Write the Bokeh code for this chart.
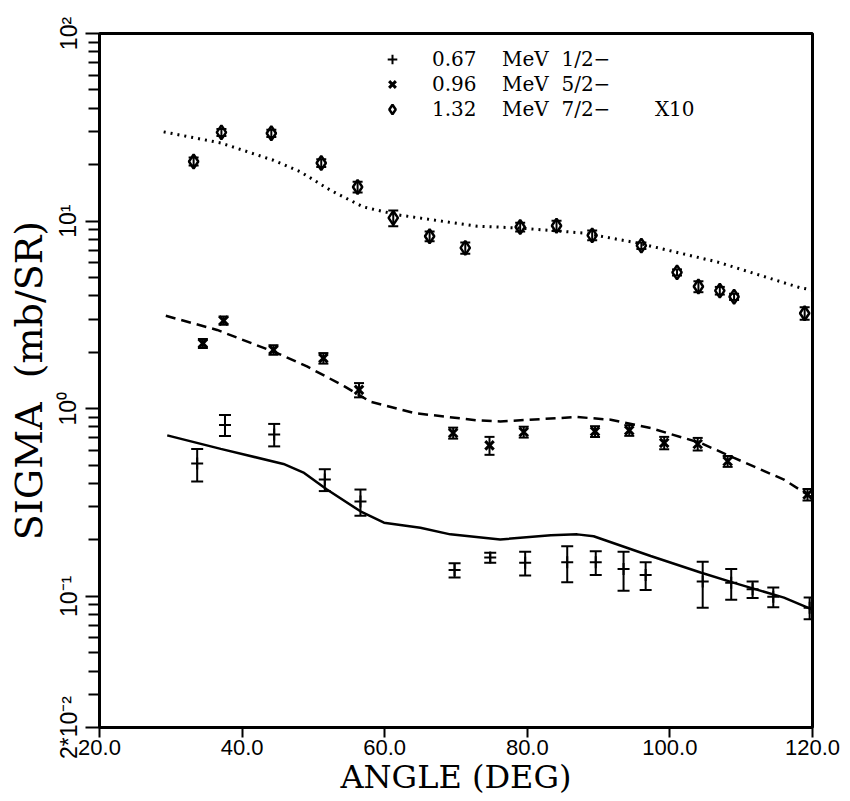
import math
from bokeh.plotting import figure
from bokeh.models import (ColumnDataSource, Whisker, TeeHead, FixedTicker, LogAxis, LinearAxis,
                          LogScale, NumeralTickFormatter, CustomJSTickFormatter, Legend, LegendItem)
from bokeh.embed import file_html
from bokeh.resources import INLINE

# ---------------- data ----------------
# 0.67 MeV 1/2-  (plus)
x_067 = [33.7, 37.6, 44.5, 51.6, 56.6, 69.8, 74.8, 79.7, 85.6, 89.6, 93.5, 96.6, 104.6, 108.6, 111.6, 114.5, 119.6]
y_067 = [0.51, 0.82, 0.73, 0.42, 0.32, 0.138, 0.161, 0.151, 0.152, 0.152, 0.140, 0.130, 0.120, 0.118, 0.109, 0.0995, 0.087]
e_067 = [0.10, 0.105, 0.10, 0.056, 0.051, 0.012, 0.010, 0.022, 0.033, 0.022, 0.033, 0.022, 0.033, 0.022, 0.011, 0.012, 0.0115]

# 0.96 MeV 5/2-  (cross)
x_096 = [34.5, 37.4, 44.4, 51.4, 56.4, 69.6, 74.7, 79.5, 89.5, 94.3, 99.2, 103.9, 108.1, 119.3]
y_096 = [2.23, 2.95, 2.06, 1.86, 1.26, 0.743, 0.638, 0.752, 0.757, 0.767, 0.658, 0.649, 0.525, 0.349]
e_096 = [0.12, 0.15, 0.12, 0.12, 0.11, 0.05, 0.07, 0.05, 0.05, 0.05, 0.05, 0.05, 0.035, 0.025]

# 1.32 MeV 7/2- X10  (diamond)
x_132 = [33.2, 37.1, 44.1, 51.1, 56.2, 61.2, 66.3, 71.3, 79.0, 84.1, 89.1, 96.0, 101.0, 104.0, 107.0, 109.0, 118.9]
y_132 = [20.8, 29.7, 29.4, 20.4, 15.2, 10.4, 8.3, 7.2, 9.3, 9.45, 8.4, 7.4, 5.33, 4.48, 4.26, 3.95, 3.23]
e_132 = [1.0, 1.3, 1.3, 1.0, 1.0, 1.0, 0.5, 0.5, 0.5, 0.6, 0.5, 0.3, 0.2, 0.3, 0.2, 0.15, 0.25]

# theory curves
solid_x = [29.5, 37.0, 45.8, 48.7, 51.9, 56.6, 59.9, 65.0, 69.2, 76.2, 83.3, 87.0, 89.3, 97.3, 104.3, 109.0, 116.0, 120.0]
solid_y = [0.721, 0.611, 0.508, 0.455, 0.371, 0.284, 0.247, 0.232, 0.214, 0.201, 0.212, 0.214, 0.209, 0.164, 0.134, 0.118, 0.0985, 0.085]

dashed_x = [29.3, 36.5, 44.9, 49.1, 54.3, 58.0, 64.1, 73.0, 76.2, 87.0, 91.7, 97.3, 104.3, 109.0, 116.0, 120.0]
dashed_y = [3.13, 2.63, 1.98, 1.68, 1.32, 1.09, 0.949, 0.867, 0.856, 0.903, 0.874, 0.789, 0.657, 0.547, 0.419, 0.335]

dotted_x = [29.0, 37.0, 44.4, 48.2, 52.4, 57.0, 61.8, 69.2, 73.0, 79.0, 87.9, 95.5, 106.7, 118.3, 120.0]
dotted_y = [29.9, 26.1, 21.1, 18.3, 14.6, 11.9, 10.8, 9.84, 9.4, 9.18, 8.64, 7.64, 6.05, 4.41, 4.3]

x_ticks = [20, 40, 60, 80, 100, 120]
y_ticks = [0.02, 0.1, 1, 10, 100]
y_tick_labels = ["2*10\u207b\u00b2", "10\u207b\u00b9", "10\u2070", "10\u00b9", "10\u00b2"]
y_minor = [0.03, 0.04, 0.05, 0.06, 0.07, 0.08, 0.09,
           0.2, 0.3, 0.4, 0.5, 0.6, 0.7, 0.8, 0.9,
           2, 3, 4, 5, 6, 7, 8, 9,
           20, 30, 40, 50, 60, 70, 80, 90]

labels = ["0.67\u00a0\u00a0\u00a0\u00a0MeV\u00a0\u00a01/2\u2212",
          "0.96\u00a0\u00a0\u00a0\u00a0MeV\u00a0\u00a05/2\u2212",
          "1.32\u00a0\u00a0\u00a0\u00a0MeV\u00a0\u00a07/2\u2212\u00a0\u00a0\u00a0\u00a0\u00a0\u00a0\u00a0X10"]

SERIF = "DejaVu Serif"
SANS = "Liberation Sans"

# ---------------- figure ----------------
p = figure(width=850, height=801, output_backend="svg", toolbar_location=None,
           x_range=(20, 120), y_range=(0.02, 100), y_axis_type=None, x_axis_type=None,
           min_border_left=99, min_border_right=38, min_border_top=33, min_border_bottom=74)
p.y_scale = LogScale()
p.background_fill_color = "white"
p.border_fill_color = "white"
p.outline_line_color = "black"
p.outline_line_width = 3

xax = LinearAxis(ticker=FixedTicker(ticks=x_ticks),
                 formatter=NumeralTickFormatter(format="0.0"))
xax.axis_label = "ANGLE (DEG)"
xax.axis_label_text_font = SERIF
xax.axis_label_text_font_size = "32px"
xax.axis_label_text_font_style = "normal"
xax.axis_label_text_color = "black"
xax.axis_label_standoff = 0
xax.major_label_text_font = SANS
xax.major_label_text_font_size = "22px"
xax.major_label_text_color = "black"
xax.major_label_standoff = 2
xax.axis_line_width = 3
xax.major_tick_line_width = 2
xax.major_tick_in = 0
xax.major_tick_out = 10
xax.minor_tick_line_color = None
p.add_layout(xax, "below")

fmt = CustomJSTickFormatter(args=dict(tv=y_ticks, tl=y_tick_labels), code="""
    for (let i = 0; i < tv.length; i++) {
        if (Math.abs(Math.log10(tv[i]) - Math.log10(tick)) < 1e-6) return tl[i];
    }
    return "";
""")
yax = LogAxis(ticker=FixedTicker(ticks=y_ticks, minor_ticks=y_minor), formatter=fmt)
yax.axis_label = "SIGMA\u00a0\u00a0(mb/SR)"
yax.axis_label_text_font = SERIF
yax.axis_label_text_font_size = "38px"
yax.axis_label_text_font_style = "normal"
yax.axis_label_text_color = "black"
yax.axis_label_standoff = 2
yax.major_label_text_font = SANS
yax.major_label_text_font_size = "23px"
yax.major_label_text_color = "black"
yax.major_label_orientation = "vertical"
yax.major_label_standoff = 4
yax.axis_line_width = 3
yax.major_tick_line_width = 2
yax.minor_tick_line_width = 2
yax.major_tick_in = 0
yax.major_tick_out = 14
yax.minor_tick_in = 0
yax.minor_tick_out = 11
p.add_layout(yax, "left")

# theory curves
p.line(solid_x, solid_y, line_color="black", line_width=2.5)
p.line(dashed_x, dashed_y, line_color="black", line_width=2.5, line_dash="10 6")
p.line(dotted_x, dotted_y, line_color="black", line_width=3, line_dash="2 5")

def add_series(xs, ys, es, marker, size, lw, head):
    src = ColumnDataSource(dict(x=xs, y=ys,
                                lo=[v - e for v, e in zip(ys, es)],
                                hi=[v + e for v, e in zip(ys, es)]))
    w = Whisker(source=src, base="x", upper="hi", lower="lo", dimension="height",
                line_color="black", line_width=2,
                upper_head=TeeHead(size=head, line_width=2, line_color="black"),
                lower_head=TeeHead(size=head, line_width=2, line_color="black"))
    p.add_layout(w)
    r = p.scatter("x", "y", source=src, marker=marker, size=size, line_color="black",
                  line_width=lw, fill_color=None)
    return r

r1 = add_series(x_067, y_067, e_067, "cross", 12, 2, 12)
r2 = add_series(x_096, y_096, e_096, "x", 12, 3, 10)
r3 = add_series(x_132, y_132, e_132, "diamond", 14, 2.5, 10)

legend = Legend(items=[LegendItem(label=labels[0], renderers=[r1]),
                       LegendItem(label=labels[1], renderers=[r2]),
                       LegendItem(label=labels[2], renderers=[r3])],
                location=(280, 606))
legend.background_fill_alpha = 0
legend.border_line_color = None
legend.padding = 0
legend.margin = 0
legend.spacing = 1
legend.glyph_width = 26
legend.glyph_height = 24
legend.label_height = 24
legend.label_standoff = 27
legend.label_text_font = SERIF
legend.label_text_font_size = "20px"
legend.label_text_color = "black"
p.add_layout(legend)

open("out.html", "w").write(file_html(p, INLINE))
